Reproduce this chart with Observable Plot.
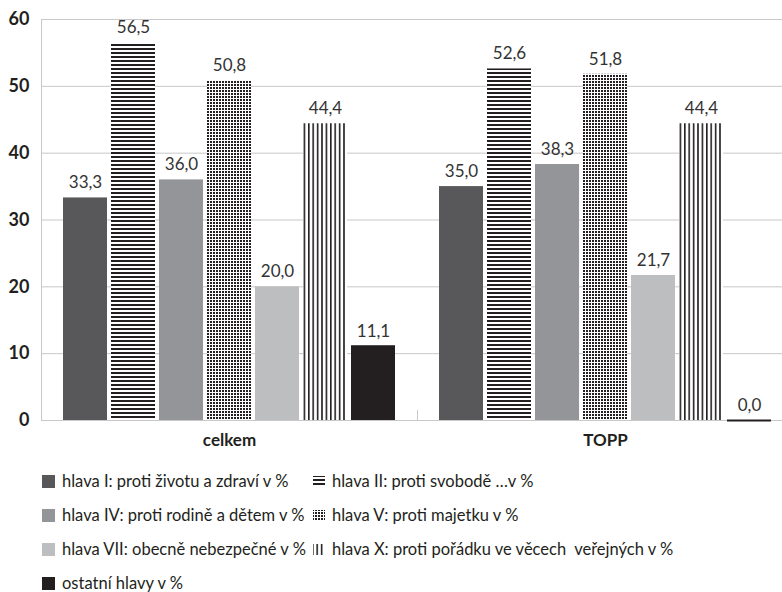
<!DOCTYPE html>
<html>
<head>
<meta charset="utf-8">
<script src="https://cdn.jsdelivr.net/npm/d3@7"></script>
<script src="https://cdn.jsdelivr.net/npm/@observablehq/plot@0.6"></script>
<style>
  html, body { margin: 0; padding: 0; background: #fff; overflow: hidden; }
  #wrap { width: 782px; overflow: hidden; font-family: Lato, sans-serif; }
  #chart svg { max-width: none !important; display: block; }
  #legend { display: grid; grid-template-columns: 270px auto; margin-left: 42px; padding-top: 9px; color: #231f20; font-size: 16.5px; }
  .item { display: flex; align-items: center; height: 34px; white-space: pre; }
  .item span { line-height: 1; }
  .item svg { margin-right: 7px; flex: none; }
</style>
</head>
<body>
<div id="wrap"><div id="chart"></div><div id="legend"></div></div>
<script>
const groups = ["celkem", "TOPP"];
const categories = [
  "hlava I: proti životu a zdraví v %",
  "hlava II: proti svobodě …v %",
  "hlava IV: proti rodině a dětem v %",
  "hlava V: proti majetku v %",
  "hlava VII: obecně nebezpečné v %",
  "hlava X: proti pořádku ve věcech  veřejných v %",
  "ostatní hlavy v %"
];
const celkemValues = [33.3, 56.5, 36.0, 50.8, 20.0, 44.4, 11.1];
const toppValues = [35.0, 52.6, 38.3, 51.8, 21.7, 44.4, 0.0];
const yTicks = [0, 10, 20, 30, 40, 50, 60];
const fills = ["#58585a", "url(#pat-h)", "#939598", "url(#pat-d)", "#bcbec0", "url(#pat-v)", "#231f20"];

const data = [];
groups.forEach((g, gi) => {
  const vals = gi === 0 ? celkemValues : toppValues;
  categories.forEach((c, ci) => data.push({group: g, cat: c, value: vals[ci]}));
});
const fmt = v => v.toFixed(1).replace(".", ",");

const chart = Plot.plot({
  width: 793,
  height: 455,
  marginTop: 19,
  marginBottom: 35,
  marginLeft: 41,
  marginRight: 0,
  style: {fontFamily: "Lato, sans-serif", fontSize: "15px", color: "#231f20", background: "#fff"},
  fx: {domain: groups, padding: 0, label: null},
  x: {domain: categories, paddingInner: 0.09, paddingOuter: 0.44, axis: null},
  y: {domain: [0, 60], axis: null},
  color: {domain: categories, range: fills},
  marks: [
    Plot.gridY(yTicks, {stroke: "#c8c8c8", strokeOpacity: 1}),
    Plot.frame({anchor: "left", fx: ["celkem"], stroke: "#c8c8c8", strokeOpacity: 1}),
    Plot.frame({anchor: "left", insetTop: 391, stroke: "#c8c8c8", strokeOpacity: 1}),
    Plot.axisY(yTicks, {tickSize: 0, tickPadding: 12, fontSize: 18, fontWeight: "bold", label: null}),
    Plot.axisFx({anchor: "bottom", tickSize: 0, tickPadding: 13, fontSize: 17, fontWeight: "bold", label: null}),
    Plot.barY(data, {fx: "group", x: "cat", y: "value", fill: "cat"}),
    Plot.tickY(data.filter(d => d.cat === categories[6]), {fx: "group", x: "cat", y: "value", stroke: fills[6], strokeWidth: 2}),
    Plot.text(data, {fx: "group", x: "cat", y: "value", text: d => fmt(d.value), dy: -15, fontSize: 17, fill: "#333"})
  ]
});

const defs = `<defs>
  <pattern id="pat-h" patternUnits="userSpaceOnUse" width="4" height="4">
    <rect width="4" height="4" fill="#fff"/><rect y="0" width="4" height="2" fill="#231f20"/>
  </pattern>
  <pattern id="pat-d" patternUnits="userSpaceOnUse" width="3" height="3">
    <rect width="3" height="3" fill="#fff"/><rect width="2" height="2" fill="#231f20"/>
  </pattern>
  <pattern id="pat-v" patternUnits="userSpaceOnUse" width="4.4" height="4">
    <rect width="4.4" height="4" fill="#fff"/><rect width="1.6" height="4" fill="#231f20"/>
  </pattern>
</defs>`;
chart.insertAdjacentHTML("afterbegin", defs);
chart.style.maxWidth = "none";
document.getElementById("chart").appendChild(chart);

const legend = d3.select("#legend");
categories.forEach((c, i) => {
  const item = legend.append("div").attr("class", "item");
  const patterned = fills[i].startsWith("url");
  const s = item.append("svg").attr("width", 13).attr("height", 13);
  if (patterned) {
    s.append("rect").attr("x", 1).attr("y", 1).attr("width", 12).attr("height", 11).attr("fill", fills[i]);
  } else {
    s.append("rect").attr("width", 13).attr("height", 13).attr("fill", fills[i]);
  }
  item.append("span").text(c);
});
</script>
</body>
</html>
